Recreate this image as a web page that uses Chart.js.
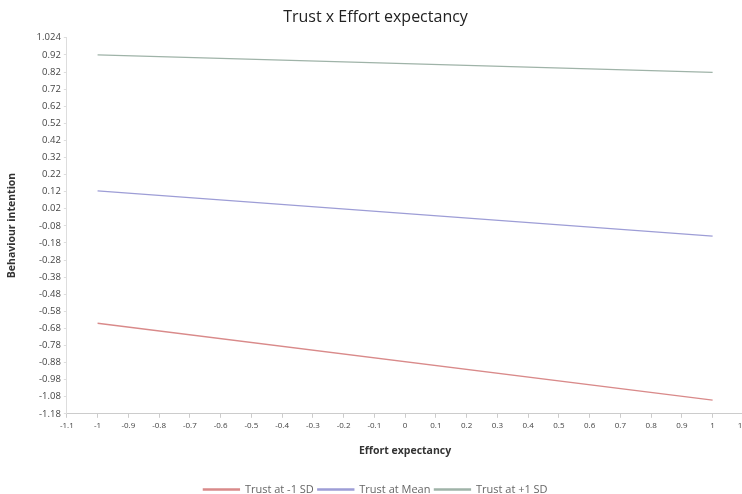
<!DOCTYPE html>
<html lang="en">
<head>
    <meta charset="UTF-8">
    <title>Trust x Effort expectancy</title>
    <script src="https://cdn.jsdelivr.net/npm/chart.js"></script>
    <style>
        html, body {
            margin: 0;
            padding: 0;
            background: #fff;
            overflow: hidden;
        }
        .chart-container {
            width: 752px;
            height: 494px;
        }
    </style>
</head>
<body>
    <div class="chart-container">
        <canvas id="chart"></canvas>
    </div>
    <script>
        // Effort expectancy at -1 and +1
        const effortX = [-1, 1];
        const trustLow = [-0.65, -1.10];
        const trustMean = [0.125, -0.14];
        const trustHigh = [0.92, 0.818];

        const seriesNames = ['Trust at -1 SD', 'Trust at Mean', 'Trust at +1 SD'];
        const seriesColors = ['#d98a8a', '#9d9dd6', '#9fb3a8'];

        // y ticks: top value 1.024, then every 0.1 from -1.18
        const yTicks = [1.024];
        for (let i = 0; i <= 21; i++) {
            yTicks.push(Math.round((0.92 - i * 0.1) * 100) / 100);
        }

        const toPoints = ys => effortX.map((x, i) => ({ x: x, y: ys[i] }));

        const datasets = [trustLow, trustMean, trustHigh].map((ys, i) => ({
            label: seriesNames[i],
            data: toPoints(ys),
            borderColor: seriesColors[i],
            backgroundColor: seriesColors[i],
            borderWidth: 1.3,
            pointRadius: 0,
            fill: false
        }));

        const textColor = '#444';
        const fontFamily = "'Open Sans', 'Noto Sans', sans-serif";

        new Chart(document.getElementById('chart').getContext('2d'), {
            type: 'line',
            data: { datasets: datasets },
            options: {
                responsive: true,
                maintainAspectRatio: false,
                animation: false,
                layout: { padding: { top: 2, left: 6, right: 7, bottom: -11 } },
                plugins: {
                    title: {
                        display: true,
                        text: 'Trust x Effort expectancy',
                        color: '#222',
                        font: { family: fontFamily, size: 16, weight: 'normal' },
                        padding: { top: 6, bottom: 10 }
                    },
                    legend: {
                        position: 'bottom',
                        labels: {
                            boxWidth: 36,
                            boxHeight: 1,
                            color: '#666',
                            font: { family: fontFamily, size: 11 },
                            padding: 4
                        }
                    },
                    tooltip: { enabled: false }
                },
                scales: {
                    x: {
                        type: 'linear',
                        min: -1.1,
                        max: 1.1,
                        afterBuildTicks: axis => {
                            const t = [];
                            for (let i = -11; i <= 11; i++) t.push({ value: i / 10 });
                            axis.ticks = t;
                        },
                        ticks: {
                            color: textColor,
                            font: { family: fontFamily, size: 8 },
                            maxRotation: 0,
                            autoSkip: false,
                            padding: 3,
                            callback: v => String(Math.round(v * 10) / 10)
                        },
                        grid: {
                            drawOnChartArea: false,
                            tickLength: 4,
                            color: '#ccc'
                        },
                        border: { color: '#ccc' },
                        title: {
                            display: true,
                            text: 'Effort expectancy',
                            color: '#333',
                            font: { family: fontFamily, size: 10.5, weight: 'bold' },
                            padding: { top: 11, bottom: 23 }
                        }
                    },
                    y: {
                        min: -1.18,
                        max: 1.024,
                        afterBuildTicks: axis => {
                            axis.ticks = yTicks.map(v => ({ value: v }));
                        },
                        ticks: {
                            color: textColor,
                            font: { family: fontFamily, size: 9.5 },
                            autoSkip: false,
                            padding: 3,
                            callback: v => v === 1.024 ? '1.024' : v.toFixed(2)
                        },
                        grid: {
                            drawOnChartArea: false,
                            tickLength: 3,
                            color: '#ddd'
                        },
                        border: { color: '#ddd' },
                        title: {
                            display: true,
                            text: 'Behaviour intention',
                            color: '#333',
                            font: { family: fontFamily, size: 10.5, weight: 'bold' },
                            padding: { top: 0, bottom: 15 }
                        }
                    }
                }
            }
        });
    </script>
</body>
</html>
